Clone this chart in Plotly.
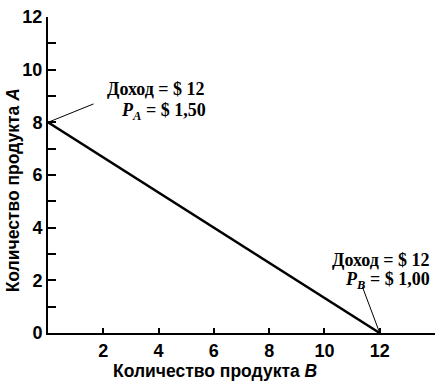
import plotly.graph_objects as go

# Data
qty_B = [0, 12]          # Количество продукта B
qty_A = [8, 0]           # Количество продукта A
x_tick_vals = [2, 4, 6, 8, 10, 12, 14]
x_tick_text = ["2", "4", "6", "8", "10", "12", ""]
y_tick_vals = list(range(0, 13))
y_tick_text = [str(v) if v % 2 == 0 else "" for v in y_tick_vals]

label_A_1 = "Доход = $ 12"
label_A_2 = "<i>P<sub>A</sub></i> = $ 1,50"
label_B_1 = "Доход = $ 12"
label_B_2 = "<i>P<sub>B</sub></i> = $ 1,00"

fig = go.Figure()
fig.add_trace(go.Scatter(x=qty_B, y=qty_A, mode="lines",
                         line=dict(color="black", width=2.5),
                         hoverinfo="skip", showlegend=False))

tickfont = dict(family="Liberation Sans, Arial, sans-serif", size=18, color="black", weight="bold")
serif = dict(family="Liberation Serif, Times New Roman, serif", size=18, color="black", weight="bold")
titlefont = dict(family="Liberation Sans, Arial, sans-serif", size=17.5, color="black", weight="bold")

fig.update_layout(
    width=442, height=384,
    margin=dict(l=48, r=7, t=10, b=51),
    paper_bgcolor="white", plot_bgcolor="white",
    xaxis=dict(range=[0, 14], showgrid=False, zeroline=False, showline=True,
               linecolor="black", linewidth=2, ticks="inside", ticklen=5,
               tickwidth=2, tickcolor="black", tickvals=x_tick_vals,
               ticktext=x_tick_text, tickfont=tickfont,
               ticklabeloverflow="allow"),
    yaxis=dict(range=[0, 12], showgrid=False, zeroline=False, showline=True,
               linecolor="black", linewidth=2, ticks="inside", ticklen=8,
               tickwidth=2, tickcolor="black", tickvals=y_tick_vals,
               ticktext=y_tick_text, tickfont=tickfont,
               ticklabeloverflow="allow"),
)

annotations = [
    # leader lines
    dict(x=qty_B[0], y=qty_A[0], text="", showarrow=True, arrowhead=0,
         arrowwidth=1, arrowcolor="black", ax=47, ay=-19, standoff=0),
    dict(x=qty_B[1], y=qty_A[1], text="", showarrow=True, arrowhead=0,
         arrowwidth=1, arrowcolor="black", ax=-18, ay=-48, standoff=0),
    # labels
    dict(x=5.75, y=9.25, text=label_A_1, showarrow=False, xanchor="right",
         yanchor="middle", font=serif),
    dict(x=5.79, y=8.43, text=label_A_2, showarrow=False, xanchor="right",
         yanchor="middle", font=serif),
    dict(x=13.89, y=2.79, text=label_B_1, showarrow=False, xanchor="right",
         yanchor="middle", font=serif),
    dict(x=13.89, y=2.0, text=label_B_2, showarrow=False, xanchor="right",
         yanchor="middle", font=serif),
    # axis titles
    dict(xref="paper", yref="paper", x=0.4315, y=-0.121,
         text="Количество продукта <i>B</i>", showarrow=False,
         xanchor="center", yanchor="middle", font=titlefont),
    dict(xref="paper", yref="paper", x=-0.09, y=0.452,
         text="Количество продукта <i>A</i>", showarrow=False, textangle=-90,
         xanchor="center", yanchor="middle", font=titlefont),
]
fig.update_layout(annotations=annotations)

fig.write_html("out.html")
